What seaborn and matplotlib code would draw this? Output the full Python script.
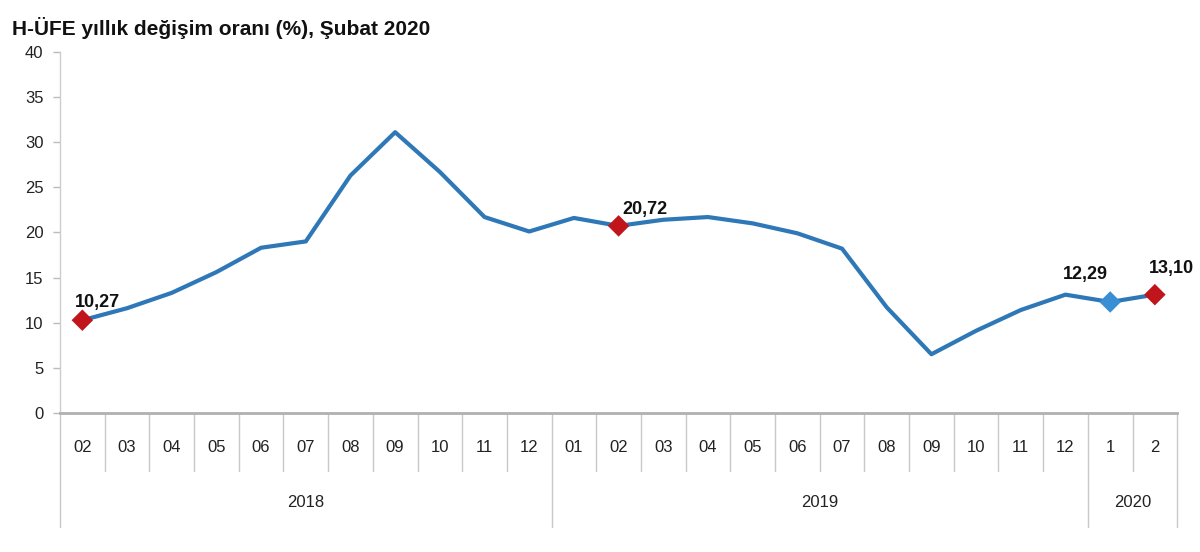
import matplotlib
matplotlib.use("Agg")
import matplotlib.pyplot as plt
import matplotlib.transforms as mtransforms
import seaborn as sns
import pandas as pd

# ---- data ----
month_labels = ["02", "03", "04", "05", "06", "07", "08", "09", "10", "11", "12",
                "01", "02", "03", "04", "05", "06", "07", "08", "09", "10", "11", "12",
                "1", "2"]
year_labels = ["2018", "2019", "2020"]
year_counts = [11, 12, 2]
values = [10.27, 11.6, 13.3, 15.6, 18.3, 19.0, 26.3, 31.1, 26.7, 21.7, 20.1,
          21.6, 20.72, 21.4, 21.7, 21.0, 19.9, 18.2, 11.7, 6.5, 9.1, 11.4, 13.1,
          12.29, 13.10]
highlight_idx = [0, 12, 24, 23]
highlight_text = ["10,27", "20,72", "13,10", "12,29"]
highlight_kind = ["red", "red", "red", "blue"]
y_ticks = [0, 5, 10, 15, 20, 25, 30, 35, 40]
title = "H-ÜFE yıllık değişim oranı (%), Şubat 2020"

df = pd.DataFrame({"pos": range(len(values)), "value": values})
hl = pd.DataFrame({"pos": highlight_idx,
                   "value": [values[i] for i in highlight_idx],
                   "kind": highlight_kind})

sns.set_theme(style="white")
plt.rcParams["font.family"] = ["Liberation Sans", "DejaVu Sans"]

fig = plt.figure(figsize=(12, 5.52), dpi=100)
ax = fig.add_axes([0.05, 0.252, 0.931, 0.654])

line_color = "#2f78b7"
sns.lineplot(data=df, x="pos", y="value", ax=ax, color=line_color, lw=3.0)
sns.scatterplot(data=hl, x="pos", y="value", hue="kind",
                palette={"red": "#c1151c", "blue": "#3a8ed4"},
                marker="D", s=120, edgecolor="none", ax=ax, legend=False, zorder=5)

ax.set_xlim(-0.5, len(values) - 0.5)
ax.set_ylim(0, 40)
ax.set_yticks(y_ticks)
ax.set_yticklabels([str(t) for t in y_ticks], fontsize=12, color="#222222")
ax.set_xticks([])
ax.set_xlabel("")
ax.set_ylabel("")
ax.tick_params(axis="y", length=5, width=1, color="#bbbbbb", pad=7, left=True)

for s in ["top", "right"]:
    ax.spines[s].set_visible(False)
ax.spines["left"].set_color("#cccccc")
ax.spines["left"].set_linewidth(1)
ax.spines["bottom"].set_color("#b0b0b0")
ax.spines["bottom"].set_linewidth(2)

# data labels
offsets = {0: (11, 13), 12: (19, 12), 24: (12, 19), 23: (-18, 20)}
for i, txt in zip(highlight_idx, highlight_text):
    dx, dy = offsets[i]
    ax.annotate(txt, (i, values[i]), xytext=(dx, dy), textcoords="offset points",
                ha="center", va="center", fontsize=13, fontweight="bold",
                color="#111111", zorder=6)

# category axis below
trans = mtransforms.blended_transform_factory(ax.transData, ax.transAxes)
ax_h = 0.654 * 552  # axes height in px
def py(px):
    return -px / ax_h

for i, lab in enumerate(month_labels):
    ax.text(i, py(35), lab, transform=trans, ha="center", va="center",
            fontsize=12, color="#222222", clip_on=False)

boundaries = [-0.5]
for c in year_counts:
    boundaries.append(boundaries[-1] + c)
for k in range(len(values) + 1):
    xb = k - 0.5
    long = xb in boundaries
    ax.plot([xb, xb], [0, py(114 if long else 58)], transform=trans,
            color="#c8c8c8", lw=1, clip_on=False)
for lab, a, b in zip(year_labels, boundaries[:-1], boundaries[1:]):
    ax.text((a + b) / 2, py(90), lab, transform=trans, ha="center", va="center",
            fontsize=12, color="#222222", clip_on=False)

fig.text(0.01, 0.95, title, fontsize=15, fontweight="bold", color="#111111",
         ha="left", va="center")

fig.savefig("out.png", dpi=100, facecolor="white")
